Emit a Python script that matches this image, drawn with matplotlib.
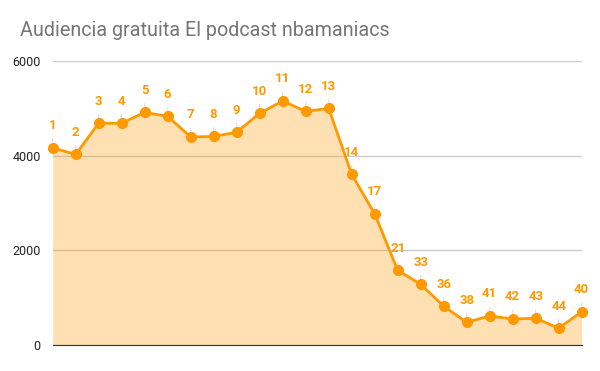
import numpy as np
import matplotlib.pyplot as plt

# episode numbers shown as point labels, and listeners per episode
episodes = ["1", "2", "3", "4", "5", "6", "7", "8", "9", "10", "11", "12", "13",
            "14", "17", "21", "33", "36", "38", "41", "42", "43", "44", "40"]
listeners = [4170, 4030, 4690, 4690, 4920, 4835, 4400, 4410, 4500, 4900, 5160,
             4940, 5005, 3610, 2775, 1580, 1285, 820, 480, 615, 550, 565, 355, 705]

plt.rcParams['font.family'] = ['Roboto', 'DejaVu Sans']

if __name__ == "__main__":
    fig = plt.figure(figsize=(6, 3.71), dpi=100)
    ax = fig.add_axes([0.0878, 0.070, 0.8817, 0.7648])

    x = np.arange(len(listeners))
    orange = '#FF9900'

    ax.fill_between(x, listeners, 0, color=orange, alpha=0.3, linewidth=0, zorder=2)
    ax.plot(x, listeners, color=orange, linewidth=2, marker='o', markersize=7,
            clip_on=False, zorder=4)

    # labels above each point with a thin leader line (kept under the markers)
    for xi, yi, lab in zip(x, listeners, episodes):
        ax.annotate(lab, xy=(xi, yi), xytext=(0, 16), textcoords='offset points',
                    ha='center', va='center', color=orange, fontsize=9.5,
                    fontweight='bold', zorder=3, annotation_clip=False,
                    arrowprops=dict(arrowstyle='-', color='#dddddd', lw=0.8,
                                    shrinkA=3, shrinkB=4))

    ax.set_xlim(0, len(listeners) - 1)
    ax.set_ylim(0, 6000)
    ax.set_yticks([0, 2000, 4000, 6000])
    ax.set_xticks([])

    # Axis formatting.
    for s in ['top', 'right', 'left']:
        ax.spines[s].set_visible(False)
    ax.spines['bottom'].set_color('#333333')
    ax.spines['bottom'].set_zorder(3)
    ax.tick_params(left=False, bottom=False, labelsize=9, labelcolor='#222222', pad=5)
    ax.set_axisbelow(True)
    ax.yaxis.grid(True, color='#cccccc', linewidth=1)

    fig.text(0.033, 0.918, "Audiencia gratuita El podcast nbamaniacs",
             fontsize=14.2, color='#757575', va='center', ha='left')

    fig.savefig("out.png", dpi=100)
